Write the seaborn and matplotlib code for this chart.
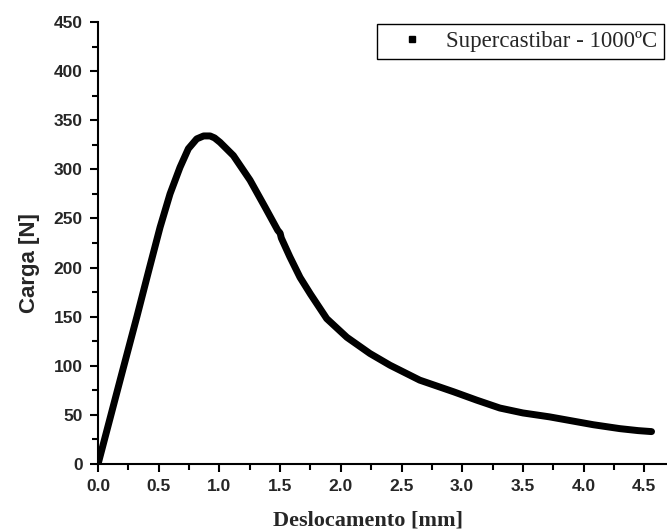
import matplotlib
matplotlib.use("Agg")
import matplotlib.pyplot as plt
import seaborn as sns
import pandas as pd
from matplotlib.lines import Line2D
from matplotlib.ticker import MultipleLocator

# curve
desloc = [0.0, 0.1, 0.2, 0.32, 0.42, 0.511, 0.593, 0.675, 0.744, 0.813,
          0.87, 0.923, 0.96, 1.005, 1.115, 1.252, 1.376, 1.48, 1.5, 1.51,
          1.58, 1.664, 1.75, 1.884, 2.05, 2.24, 2.405, 2.65, 2.93, 3.12,
          3.31, 3.5, 3.72, 3.9, 4.08, 4.3, 4.45, 4.56]
carga = [0, 47, 94, 150, 198, 241, 275, 302, 321, 331,
         334, 334, 332, 327.5, 314, 289, 261.5, 238, 235, 230,
         211, 190, 173, 148, 129, 112.5, 100.6, 85.4, 73.5, 65,
         57, 52, 48, 44, 40, 36, 34, 33]
serie = "Supercastibar - 1000ºC"

df = pd.DataFrame({"Deslocamento": desloc, "Carga": carga})

sns.set_theme(style="ticks")
plt.rcParams["font.family"] = ["Liberation Sans", "DejaVu Sans"]

fig = plt.figure(figsize=(6.67, 5.30), dpi=100)
ax = fig.add_axes([0.147, 0.1245, 0.8535, 0.834])

sns.lineplot(data=df, x="Deslocamento", y="Carga", sort=False,
             color="black", linewidth=5, ax=ax)

ax.set_xlim(0, 4.69)
ax.set_ylim(0, 450)
ax.xaxis.set_major_locator(MultipleLocator(0.5))
ax.xaxis.set_minor_locator(MultipleLocator(0.25))
ax.yaxis.set_major_locator(MultipleLocator(50))
ax.yaxis.set_minor_locator(MultipleLocator(25))

for s in ["top", "right"]:
    ax.spines[s].set_visible(False)
for s in ["left", "bottom"]:
    ax.spines[s].set_linewidth(1.5)
    ax.spines[s].set_color("black")

ax.tick_params(which="major", direction="out", length=6, width=1.5,
               color="black", labelsize=12.5, pad=5)
ax.tick_params(which="minor", direction="out", length=4, width=1.5,
               color="black")
for lab in ax.get_xticklabels() + ax.get_yticklabels():
    lab.set_fontweight("bold")

ax.set_xlabel("Deslocamento [mm]", fontsize=16, fontweight="bold",
              family=["Liberation Serif", "DejaVu Serif"])
ax.set_ylabel("Carga [N]", fontsize=16, fontweight="bold")
ax.xaxis.set_label_coords(0.475, -0.105)
ax.yaxis.set_label_coords(-0.102, 0.455)

handle = Line2D([], [], color="black", marker="s", linestyle="none",
                markersize=4)
leg = ax.legend([handle], [serie], loc="upper right",
                bbox_to_anchor=(0.994, 0.996), borderaxespad=0,
                frameon=True, fancybox=False, edgecolor="black",
                framealpha=1, borderpad=0.3, handlelength=2.4,
                handletextpad=0.3,
                prop={"family": "Liberation Serif", "size": 16.5})
leg.get_frame().set_linewidth(1.0)

fig.savefig("out.png", dpi=100)
plt.close(fig)
